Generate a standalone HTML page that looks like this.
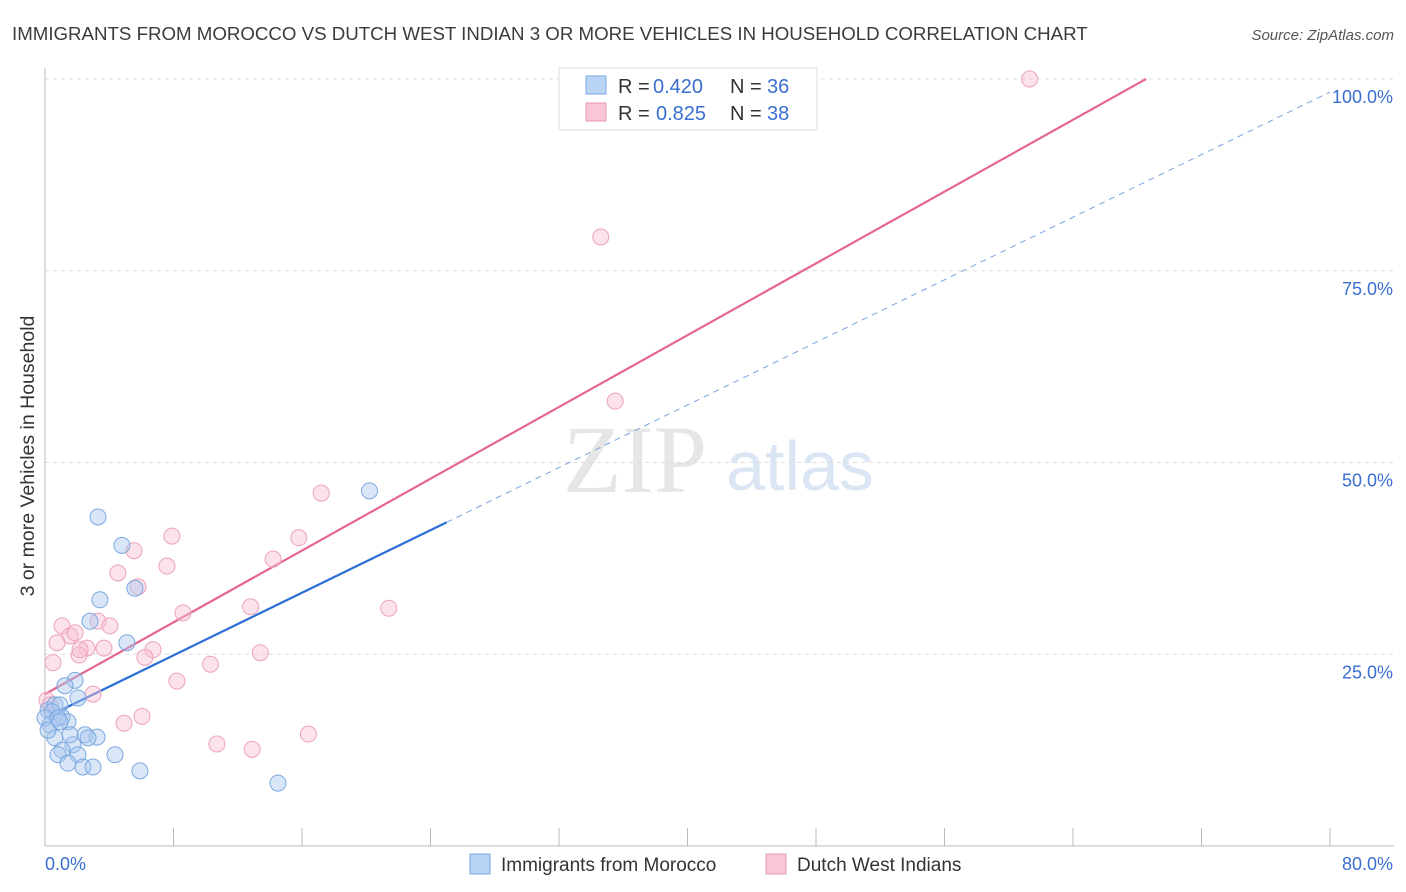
<!DOCTYPE html>
<html><head><meta charset="utf-8"><style>
body{margin:0;background:#fff;font-family:"Liberation Sans",sans-serif;}
svg{display:block}
</style></head><body>
<svg id="chart" width="1406" height="892">
<text x="12" y="40" font-size="18.7" fill="#3b3b3b">IMMIGRANTS FROM MOROCCO VS DUTCH WEST INDIAN 3 OR MORE VEHICLES IN HOUSEHOLD CORRELATION CHART</text>
<text x="1394" y="40" font-size="15" fill="#555" font-style="italic" text-anchor="end">Source: ZipAtlas.com</text>
<text x="635" y="492" font-size="96" fill="#e6e6e6" font-family="Liberation Serif" text-anchor="middle">ZIP</text>
<text x="800" y="490" font-size="70" fill="#dbe6f5" text-anchor="middle">atlas</text>
<text transform="translate(34,456) rotate(-90)" font-size="19.5" fill="#333" text-anchor="middle">3 or more Vehicles in Household</text>
<g id="grid"></g><g id="axes"></g><g id="lines"></g><g id="points"></g>
<g>
<rect x="559" y="68" width="258" height="62" fill="#fff" stroke="#ddd"/>
<rect x="586" y="76" width="20" height="18" fill="#b9d3f5" stroke="#7aa8e0"/>
<text x="618" y="93" font-size="20" fill="#333">R =</text><text x="653" y="93" font-size="20" fill="#3a6fd1">0.420</text>
<text x="730" y="93" font-size="20" fill="#333">N =</text><text x="767" y="93" font-size="20" fill="#3a6fd1">36</text>
<rect x="586" y="103" width="20" height="18" fill="#f8c7d6" stroke="#e89ab2"/>
<text x="618" y="120" font-size="20" fill="#333">R =</text><text x="656" y="120" font-size="20" fill="#3a6fd1">0.825</text>
<text x="730" y="120" font-size="20" fill="#333">N =</text><text x="767" y="120" font-size="20" fill="#3a6fd1">38</text>
</g>
<g>
<rect x="470" y="854" width="20" height="20" fill="#b9d3f5" stroke="#7aa8e0"/>
<text x="501" y="871" font-size="19" fill="#333">Immigrants from Morocco</text>
<rect x="766" y="854" width="20" height="20" fill="#f8c7d6" stroke="#e89ab2"/>
<text x="797" y="871" font-size="19" fill="#333">Dutch West Indians</text>
</g>
</svg>
<script>
const yTicks=[25,50,75,100];
const yTickLabels=["25.0%","50.0%","75.0%","100.0%"];
const xEndLabels=["0.0%","80.0%"];
const blueX=[3.30,4.79,3.42,5.60,2.80,5.10,1.87,2.05,1.24,0.19,0.62,0.93,1.06,1.43,0.31,0.62,2.49,3.24,1.74,1.06,2.05,0.81,4.36,1.43,2.36,2.99,5.91,14.5,20.2,0.44,0,0.81,1.56,2.68,0.19,0.93];
const blueY=[42.9,39.2,32.1,33.6,29.3,26.5,21.6,19.3,20.9,17.7,18.4,18.4,16.8,16.2,15.8,14.1,14.5,14.2,13.2,12.5,11.9,11.9,11.9,10.8,10.3,10.3,9.8,8.2,46.3,17.5,16.7,16.7,14.5,14.1,15.1,16.2];
const pinkX=[61.3,34.6,35.5,17.2,7.9,5.54,15.8,7.59,14.2,4.54,5.79,8.59,12.8,21.4,1.06,1.56,1.87,0.75,3.30,4.04,2.61,3.67,2.12,6.72,6.22,13.4,0.50,10.3,8.21,2.99,0.12,4.92,6.04,10.7,12.9,16.4,2.18,0.31];
const pinkY=[100,79.4,58.0,46.0,40.4,38.5,40.2,36.5,37.4,35.6,33.8,30.4,31.2,31.0,28.7,27.4,27.8,26.5,29.3,28.7,25.8,25.8,24.9,25.6,24.6,25.2,23.9,23.7,21.5,19.8,19.0,16.0,16.9,13.3,12.6,14.6,25.6,18.4];
const blueFit=[16.7,1.02];
const pinkFit=[19.8,1.17];
const NS="http://www.w3.org/2000/svg";
const sx=v=>45+v*(1330-45)/80, sy=v=>846-v*(846-79)/100;
function mk(t,a,p){const e=document.createElementNS(NS,t);for(const k in a)e.setAttribute(k,a[k]);document.getElementById(p).appendChild(e);return e;}
yTicks.forEach((t,i)=>{
 const g=mk('line',{x1:45,x2:1394,y1:sy(t),y2:sy(t),stroke:'#ddd','stroke-dasharray':'4,4'},'grid');
 
 
 const l=mk('text',{x:1393,y:sy(t)+24,'font-size':18,fill:'#3a6fd1','text-anchor':'end'},'axes');l.textContent=yTickLabels[i];
 
 
});
const ax=mk('line',{x1:45,x2:1394,y1:846,y2:846,stroke:'#bbb'},'axes');


const ay=mk('line',{x1:45,x2:45,y1:68,y2:846,stroke:'#bbb'},'axes');


for(let i=0;i<=10;i++){const t=mk('line',{x1:sx(i*8),x2:sx(i*8),y1:828,y2:846,stroke:'#bbb'},'axes');
 
 }
const x0=mk('text',{x:45,y:870,'font-size':18,fill:'#3a6fd1'},'axes');x0.textContent=xEndLabels[0];


const x1=mk('text',{x:1393,y:870,'font-size':18,fill:'#3a6fd1','text-anchor':'end'},'axes');x1.textContent=xEndLabels[1];


const bd=mk('line',{x1:sx(25),y1:sy(blueFit[0]+blueFit[1]*25),x2:sx(80),y2:sy(blueFit[0]+blueFit[1]*80),stroke:'#7aa3dd','stroke-dasharray':'6,5'},'lines');


const bl=mk('line',{x1:sx(0),y1:sy(blueFit[0]),x2:sx(25),y2:sy(blueFit[0]+blueFit[1]*25),stroke:'#2c6fd6','stroke-width':2.2},'lines');


const pe=(100-pinkFit[0])/pinkFit[1];
const pl=mk('line',{x1:sx(0),y1:sy(pinkFit[0]),x2:sx(pe),y2:sy(100),stroke:'#e5668f','stroke-width':2.2},'lines');


pinkX.forEach((x,i)=>{const c=mk('circle',{cx:sx(x),cy:sy(pinkY[i]),r:8,fill:'rgba(248,190,210,0.45)',stroke:'#eba3bb'},'points');
 
 });
blueX.forEach((x,i)=>{const c=mk('circle',{cx:sx(x),cy:sy(blueY[i]),r:8,fill:'rgba(170,200,240,0.45)',stroke:'#7aa8e0'},'points');
 
 });
</script>
</body></html>
